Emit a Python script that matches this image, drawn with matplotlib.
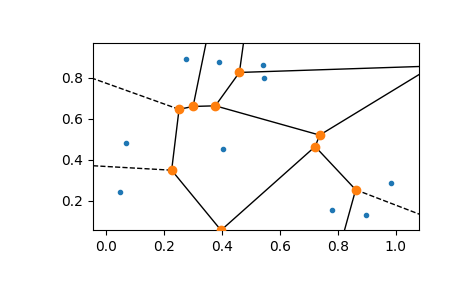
from itertools import combinations

import numpy as np
import matplotlib
matplotlib.use("Agg")
import matplotlib.pyplot as plt
from matplotlib.collections import LineCollection

# Seed points
point_x = [0.277, 0.388, 0.5405, 0.5435, 0.067, 0.405, 0.048, 0.985, 0.781, 0.899]
point_y = [0.894, 0.878, 0.863, 0.799, 0.480, 0.451, 0.244, 0.288, 0.153, 0.130]


def voronoi(points):
    """Brute-force Delaunay -> Voronoi vertices and ridges (fine for a handful of points)."""
    n = len(points)
    centers = []
    tri_list = []
    for i, j, k in combinations(range(n), 3):
        a, b, c = points[i], points[j], points[k]
        d = 2 * (a[0] * (b[1] - c[1]) + b[0] * (c[1] - a[1]) + c[0] * (a[1] - b[1]))
        if abs(d) < 1e-12:
            continue
        ux = (a @ a * (b[1] - c[1]) + b @ b * (c[1] - a[1]) + c @ c * (a[1] - b[1])) / d
        uy = (a @ a * (c[0] - b[0]) + b @ b * (a[0] - c[0]) + c @ c * (b[0] - a[0])) / d
        cc = np.array([ux, uy])
        r = np.linalg.norm(a - cc)
        others = [m for m in range(n) if m not in (i, j, k)]
        if np.all(np.linalg.norm(points[others] - cc, axis=1) > r - 1e-12):
            centers.append(cc)
            tri_list.append((i, j, k))

    edges = {}
    for t, (i, j, k) in enumerate(tri_list):
        for e in ((i, j), (j, k), (i, k)):
            edges.setdefault(tuple(sorted(e)), []).append(t)
    return np.array(centers), edges


pts = np.column_stack([point_x, point_y])
vertices, edges = voronoi(pts)

center = pts.mean(axis=0)
ptp_bound = np.ptp(pts, axis=0)
finite_segments = []
infinite_segments = []
for (p0, p1), tris in edges.items():
    if len(tris) == 2:
        finite_segments.append(vertices[tris])
    else:
        v = vertices[tris[0]]
        t = pts[p1] - pts[p0]
        t /= np.linalg.norm(t)
        nrm = np.array([-t[1], t[0]])
        midpoint = pts[[p0, p1]].mean(axis=0)
        direction = np.sign(np.dot(midpoint - center, nrm)) * nrm
        aspect_factor = abs(ptp_bound.max() / ptp_bound.min())
        far_point = v + direction * ptp_bound.max() * aspect_factor
        infinite_segments.append([v, far_point])

fig = plt.figure(figsize=(4.65, 2.88), dpi=100)
ax = fig.add_axes([0.2, 0.2, 0.7, 0.65])

ax.add_collection(LineCollection(finite_segments, colors="k", lw=1.0, linestyle="solid"))
ax.add_collection(LineCollection(infinite_segments, colors="k", lw=1.0, linestyle="dashed"))

ax.plot(pts[:, 0], pts[:, 1], ".", color="C0", zorder=3)
ax.plot(vertices[:, 0], vertices[:, 1], "o", color="C1", zorder=3)

margin = 0.1 * ptp_bound
lo = pts.min(axis=0) - margin
hi = pts.max(axis=0) + margin
ax.set_xlim(lo[0], hi[0])
ax.set_ylim(lo[1], hi[1])

fig.savefig("out.png", dpi=100)
